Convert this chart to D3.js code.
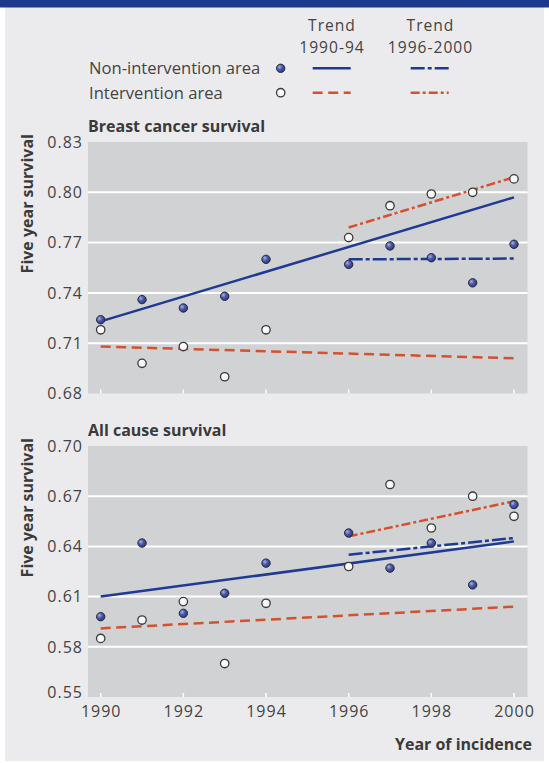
<!DOCTYPE html>
<html>
<head>
<meta charset="utf-8">
<script src="https://cdn.jsdelivr.net/npm/d3@7"></script>
<style>
  html, body { margin: 0; padding: 0; background: #ffffff; }
  svg { display: block; }
</style>
</head>
<body>
<script>
// ---------------- data ----------------
const years = [1990, 1991, 1992, 1993, 1994, 1996, 1997, 1998, 1999, 2000];
const xTickYears = [1990, 1992, 1994, 1996, 1998, 2000];

const breastNonIntervention = [0.724, 0.736, 0.731, 0.738, 0.760, 0.757, 0.768, 0.761, 0.746, 0.769];
const breastIntervention    = [0.718, 0.698, 0.708, 0.690, 0.718, 0.773, 0.792, 0.799, 0.800, 0.808];
const allNonIntervention    = [0.598, 0.642, 0.600, 0.612, 0.630, 0.648, 0.627, 0.642, 0.617, 0.665];
const allIntervention       = [0.585, 0.596, 0.607, 0.570, 0.606, 0.628, 0.677, 0.651, 0.670, 0.658];

// trend lines: [year, value] end points
const breastTrendNon9094 = [[1990, 0.723], [2000, 0.797]];
const breastTrendInt9094 = [[1990, 0.708], [2000, 0.701]];
const breastTrendNon9600 = [[1996, 0.760], [2000, 0.7605]];
const breastTrendInt9600 = [[1996, 0.779], [2000, 0.809]];
const allTrendNon9094 = [[1990, 0.610], [2000, 0.643]];
const allTrendInt9094 = [[1990, 0.591], [2000, 0.604]];
const allTrendNon9600 = [[1996, 0.635], [2000, 0.645]];
const allTrendInt9600 = [[1996, 0.646], [2000, 0.667]];

const breastTicks = [0.68, 0.71, 0.74, 0.77, 0.80, 0.83];
const allTicks    = [0.55, 0.58, 0.61, 0.64, 0.67, 0.70];

const panelTitles = ["Breast cancer survival", "All cause survival"];
const yAxisTitle = "Five year survival";
const xAxisTitle = "Year of incidence";
const legendRows = ["Non-intervention area", "Intervention area"];
const legendCols = [["Trend", "1990-94"], ["Trend", "1996-2000"]];

// ---------------- style ----------------
const W = 549, H = 763;
const BLUE = "#1f3a93", RED = "#d4502f";
const TEXT = "#444444";
const WORD_FONT = "'Open Sans', 'Noto Sans', sans-serif";
const DASH = "10,5.5";
const DASHDOT_BLUE = "14,3,4,3";
const DASHDOT_RED = "9,3,3,3";

const svg = d3.select("body").append("svg").attr("width", W).attr("height", H);

const defs = svg.append("defs");
const gFill = defs.append("radialGradient").attr("id", "dotFill")
  .attr("cx", "35%").attr("cy", "35%").attr("r", "70%");
gFill.append("stop").attr("offset", "0%").attr("stop-color", "#a9b3e6");
gFill.append("stop").attr("offset", "45%").attr("stop-color", "#4a5aad");
gFill.append("stop").attr("offset", "100%").attr("stop-color", "#28367c");
const gOpen = defs.append("radialGradient").attr("id", "openFill")
  .attr("cx", "40%").attr("cy", "40%").attr("r", "70%");
gOpen.append("stop").attr("offset", "0%").attr("stop-color", "#ffffff");
gOpen.append("stop").attr("offset", "70%").attr("stop-color", "#f4f4f4");
gOpen.append("stop").attr("offset", "100%").attr("stop-color", "#cfcfcf");

// background
svg.append("rect").attr("x", 5).attr("y", 7).attr("width", 539).attr("height", 754).attr("fill", "#ebebed");
svg.append("rect").attr("x", 0).attr("y", 0).attr("width", W).attr("height", 7.5).attr("fill", "#1d398b");

// ---------------- scales ----------------
const PLOT_L = 88, PLOT_R = 527.5;
const x = d3.scaleLinear().domain([1990, 2000]).range([100.7, 514]);

function numText(sel, size) {
  return sel.attr("font-family", WORD_FONT).attr("font-size", size || 16)
    .attr("letter-spacing", "1px").attr("fill", TEXT);
}

function dot(g, xs, ys, filled) {
  g.selectAll(null).data(d3.zip(xs, ys)).join("circle")
    .attr("cx", d => x(d[0])).attr("cy", d => d[1])
    .attr("r", 4.2)
    .attr("fill", filled ? "url(#dotFill)" : "url(#openFill)")
    .attr("stroke", filled ? "#2a2a3a" : "#3a3a3a")
    .attr("stroke-width", filled ? 1 : 1.3);
}

function drawPanel(cfg) {
  const y = d3.scaleLinear().domain([cfg.ticks[0], cfg.ticks[cfg.ticks.length - 1]]).range([cfg.bottom, cfg.top]);
  const g = svg.append("g");

  g.append("rect").attr("x", PLOT_L).attr("y", cfg.top)
    .attr("width", PLOT_R - PLOT_L).attr("height", cfg.bottom - cfg.top)
    .attr("fill", "#d1d2d4");

  // gridlines (interior ticks)
  g.selectAll(null).data(cfg.ticks.slice(1, -1)).join("line")
    .attr("x1", PLOT_L).attr("x2", PLOT_R)
    .attr("y1", d => y(d)).attr("y2", d => y(d))
    .attr("stroke", "#ffffff").attr("stroke-width", 2);

  // x ticks (white, inside bottom)
  g.selectAll(null).data(xTickYears).join("line")
    .attr("x1", d => x(d)).attr("x2", d => x(d))
    .attr("y1", cfg.bottom).attr("y2", cfg.bottom - 4)
    .attr("stroke", "#ffffff").attr("stroke-width", 1.5);

  // y tick labels
  const fmt = d3.format(".2f");
  numText(g.selectAll(null).data(cfg.ticks).join("text")
    .attr("x", PLOT_L - 5)
    .attr("y", (d, i) => y(d) + ((i === 0 && cfg.lowShift) ? -cfg.lowShift : 0))
    .attr("dy", "0.36em")
    .attr("text-anchor", "end")
    .text(d => fmt(d)));

  // panel title
  g.append("text").attr("x", PLOT_L).attr("y", cfg.top - 10.5)
    .attr("font-family", WORD_FONT).attr("font-weight", 700).attr("font-size", 16)
    .attr("fill", "#3a3a3a").text(cfg.title);

  // y axis title
  g.append("text")
    .attr("transform", `translate(32.5,${cfg.top - 8}) rotate(-90)`)
    .attr("text-anchor", "end")
    .attr("font-family", WORD_FONT).attr("font-weight", 700).attr("font-size", 16)
    .attr("fill", "#3a3a3a").text(yAxisTitle);

  const line = d3.line().x(d => x(d[0])).y(d => y(d[1]));
  const trends = [
    [cfg.tNon9094, BLUE, null],
    [cfg.tInt9094, RED, DASH],
    [cfg.tNon9600, BLUE, DASHDOT_BLUE],
    [cfg.tInt9600, RED, DASHDOT_RED]
  ];
  trends.forEach(([data, col, dash]) => {
    g.append("path").attr("d", line(data)).attr("fill", "none")
      .attr("stroke", col).attr("stroke-width", 2.5)
      .attr("stroke-dasharray", dash);
  });

  dot(g, years, cfg.intervention.map(v => y(v)), false);
  dot(g, years, cfg.nonIntervention.map(v => y(v)), true);
}

drawPanel({
  top: 142, bottom: 393.5, ticks: breastTicks, title: panelTitles[0],
  nonIntervention: breastNonIntervention, intervention: breastIntervention,
  tNon9094: breastTrendNon9094, tInt9094: breastTrendInt9094,
  tNon9600: breastTrendNon9600, tInt9600: breastTrendInt9600, lowShift: 0
});
drawPanel({
  top: 446, bottom: 697, ticks: allTicks, title: panelTitles[1],
  nonIntervention: allNonIntervention, intervention: allIntervention,
  tNon9094: allTrendNon9094, tInt9094: allTrendInt9094,
  tNon9600: allTrendNon9600, tInt9600: allTrendInt9600, lowShift: 5
});

// x tick labels
numText(svg.append("g").selectAll(null).data(xTickYears).join("text")
  .attr("x", d => x(d) + 0.5).attr("y", 717)
  .attr("text-anchor", "middle").text(d => d));

// x axis title
svg.append("text").attr("x", 532).attr("y", 750).attr("text-anchor", "end")
  .attr("font-family", WORD_FONT).attr("font-weight", 700).attr("font-size", 16)
  .attr("fill", "#3a3a3a").text(xAxisTitle);

// ---------------- legend ----------------
const leg = svg.append("g");
const colX = [331.5, 430];
const colY = [31, 52.5];
legendCols.forEach((lines, i) => {
  lines.forEach((t, j) => {
    numText(leg.append("text").attr("text-anchor", "middle")
      .attr("x", colX[i] + 0.5).attr("y", colY[j]).text(t), 15.6);
  });
});
const rowY = [68.3, 92.7];
legendRows.forEach((t, i) => {
  leg.append("text").attr("x", 89).attr("y", rowY[i] + 5.8)
    .attr("font-family", WORD_FONT).attr("font-size", 16.6).attr("fill", TEXT).text(t);
});
leg.append("circle").attr("cx", 280.7).attr("cy", rowY[0]).attr("r", 4.2)
  .attr("fill", "url(#dotFill)").attr("stroke", "#2a2a3a").attr("stroke-width", 1);
leg.append("circle").attr("cx", 280.7).attr("cy", rowY[1]).attr("r", 4.2)
  .attr("fill", "url(#openFill)").attr("stroke", "#3a3a3a").attr("stroke-width", 1.3);
const legLines = [
  [312.7, 350.7, rowY[0], BLUE, null],
  [410.7, 448.7, rowY[0], BLUE, DASHDOT_BLUE],
  [312.7, 350.7, rowY[1], RED, DASH],
  [410.7, 448.7, rowY[1], RED, DASHDOT_RED]
];
legLines.forEach(([x1, x2, yy, col, dash]) => {
  leg.append("line").attr("x1", x1).attr("x2", x2).attr("y1", yy).attr("y2", yy)
    .attr("stroke", col).attr("stroke-width", 2.5).attr("stroke-dasharray", dash);
});
</script>
</body>
</html>
